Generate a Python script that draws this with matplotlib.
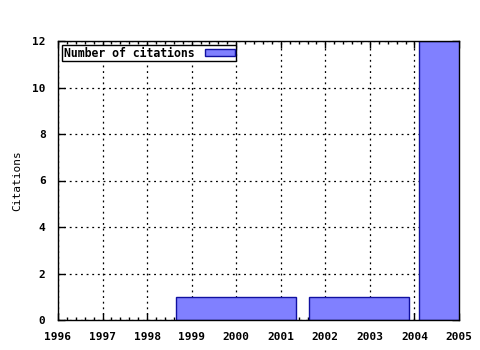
import matplotlib
matplotlib.use("Agg")
import matplotlib.pyplot as plt
from matplotlib.ticker import MultipleLocator

years = [2000, 2003, 2005]
citations = [1, 1, 12]
xticks = list(range(1996, 2006))
yticks = [0, 2, 4, 6, 8, 10, 12]

plt.rcParams['font.family'] = ['DejaVu Sans Mono']
plt.rcParams['font.weight'] = 'bold'
plt.rcParams['font.size'] = 8

# gnuplot-style boxes: edges halfway to neighbours, relative width 0.9
edges = []
for i, x in enumerate(years):
    left = (years[i - 1] + x) / 2 if i > 0 else x - (years[1] - x) / 2
    right = (years[i + 1] + x) / 2 if i < len(years) - 1 else x + (x - years[i - 1]) / 2
    edges.append((left, right))
centers = [(l + r) / 2 for l, r in edges]
widths = [0.9 * (r - l) for l, r in edges]

fig = plt.figure(figsize=(4.8, 3.5), dpi=100)
ax = fig.add_axes([58 / 480, 1 - 320 / 350, (459 - 58) / 480, (320 - 41) / 350])

ax.bar(centers, citations, width=widths, color='#8080ff', edgecolor='#1010a0',
       linewidth=1, label='Number of citations', zorder=3)

ax.set_xlim(1996, 2005)
ax.set_ylim(0, 12)
ax.set_xticks(xticks)
ax.set_yticks(yticks)
ax.xaxis.set_minor_locator(MultipleLocator(0.2))
ax.tick_params(which='both', direction='in', top=True, right=True, width=1)
ax.tick_params(which='major', length=5, pad=9)
ax.tick_params(which='minor', length=2.5)
ax.grid(True, which='major', color='black', linestyle=(0, (1.5, 3)), linewidth=0.9, zorder=1)
for s in ax.spines.values():
    s.set_linewidth(1)
    s.set_zorder(4)

ax.set_ylabel('Citations', labelpad=7)

leg = ax.legend(loc='upper left', markerfirst=False, fancybox=False, framealpha=1,
                edgecolor='black', borderpad=0.15, handlelength=2.6, handleheight=0.55,
                borderaxespad=0.35, handletextpad=0.9, fontsize=8.3)
leg.get_frame().set_linewidth(1)

fig.savefig('out.png', dpi=100)
